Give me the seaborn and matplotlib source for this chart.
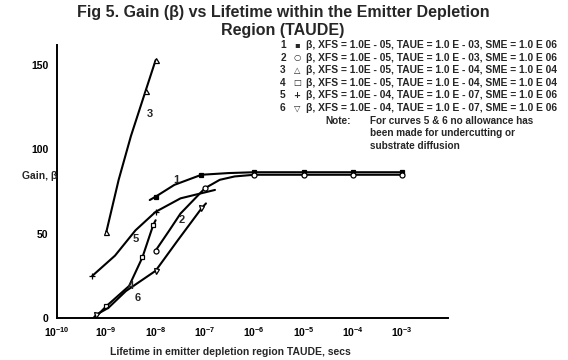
import matplotlib
matplotlib.use("Agg")
import matplotlib.pyplot as plt
import seaborn as sns
from matplotlib.ticker import NullLocator

# ---------------- data (lifetime TAUDE in s, gain beta) ----------------
c1_t = [7.6e-9, 1.0e-8, 2.4e-8, 8.5e-8, 3.0e-7, 1.0e-6, 1.0e-5, 1.0e-4, 1.0e-3]
c1_g = [70, 72, 79, 85, 86, 86.5, 86.5, 86.5, 86.5]

c2_t = [1.0e-8, 1.9e-8, 3.2e-8, 1.0e-7, 2.0e-7, 4.0e-7, 1.0e-6, 1.0e-5, 1.0e-4, 1.0e-3]
c2_g = [40, 52, 62, 77, 82, 84, 85, 85, 85, 85]

c3_t = [1.0e-9, 1.78e-9, 3.16e-9, 6.3e-9, 1.0e-8]
c3_g = [51, 82, 108, 135, 153]

c4_t = [5.8e-10, 1.0e-9, 2.9e-9, 5.4e-9, 8.9e-9, 1.0e-8]
c4_g = [0, 7, 19, 36, 55, 58]

c5_t = [5.2e-10, 1.5e-9, 3.9e-9, 1.0e-8, 3.2e-8, 1.6e-7]
c5_g = [25, 37, 52, 63, 71, 76]

c6_t = [5.5e-10, 6.3e-10, 1.1e-9, 2.5e-9, 1.0e-8, 2.8e-8, 8.5e-8, 1.05e-7]
c6_g = [0, 2, 6, 16, 28, 46, 65, 68]

curve_ids = ["1", "2", "3", "4", "5", "6"]
legend_glyphs = ["\u25aa", "\u25cb", "\u25b3", "\u25a1", "+", "\u25bd"]
legend_params = [
    "\u03b2, XFS = 1.0E - 05, TAUE = 1.0 E - 03, SME = 1.0 E 06",
    "\u03b2, XFS = 1.0E - 05, TAUE = 1.0 E - 03, SME = 1.0 E 06",
    "\u03b2, XFS = 1.0E - 05, TAUE = 1.0 E - 04, SME = 1.0 E 04",
    "\u03b2, XFS = 1.0E - 05, TAUE = 1.0 E - 04, SME = 1.0 E 04",
    "\u03b2, XFS = 1.0E - 04, TAUE = 1.0 E - 07, SME = 1.0 E 06",
    "\u03b2, XFS = 1.0E - 04, TAUE = 1.0 E - 07, SME = 1.0 E 06",
]
note_lines = ["For curves 5 & 6 no allowance has",
              "been made for undercutting or",
              "substrate diffusion"]

x_ticks = [1e-10, 1e-9, 1e-8, 1e-7, 1e-6, 1e-5, 1e-4, 1e-3]
x_tick_labels = [r"$10^{-10}$", r"$10^{-9}$", r"$10^{-8}$", r"$10^{-7}$",
                 r"$10^{-6}$", r"$10^{-5}$", r"$10^{-4}$", r"$10^{-3}$"]
y_ticks = [0, 50, 100, 150]

# curve label positions (lifetime, gain)
label_t = [2.6e-8, 3.4e-8, 7.8e-9, 3.2e-9, 3.9e-9, 4.4e-9]
label_g = [82, 58, 121, 19, 47, 12]

# ---------------- style ----------------
sns.set_theme(style="white")
plt.rcParams["font.family"] = ["Liberation Sans", "DejaVu Sans"]
plt.rcParams["font.weight"] = "bold"
plt.rcParams["mathtext.fontset"] = "custom"
plt.rcParams["mathtext.rm"] = "Liberation Sans:bold"
plt.rcParams["mathtext.it"] = "Liberation Sans:bold"
plt.rcParams["mathtext.bf"] = "Liberation Sans:bold"
plt.rcParams["mathtext.sf"] = "Liberation Sans:bold"

W, H = 568, 360
fig = plt.figure(figsize=(W / 100, H / 100), dpi=100)
ax = fig.add_axes([57 / W, (H - 318) / H, (448 - 57) / W, (318 - 45) / H])

curves = [(c1_t, c1_g), (c2_t, c2_g), (c3_t, c3_g),
          (c4_t, c4_g), (c5_t, c5_g), (c6_t, c6_g)]
styles = [
    dict(marker="s", markevery=[1, 3, 5, 6, 7, 8], markersize=2.8, markerfacecolor="black"),
    dict(marker="o", markevery=[0, 3, 6, 7, 8, 9], markersize=3.6, markerfacecolor="white"),
    dict(marker="^", markevery=[0, 3, 4], markersize=3.6, markerfacecolor="white"),
    dict(marker="s", markevery=[1, 3, 4], markersize=3.2, markerfacecolor="white"),
    dict(marker="+", markevery=[0, 3], markersize=4.5, markerfacecolor="white"),
    dict(marker="v", markevery=[1, 4, 6], markersize=3.6, markerfacecolor="white"),
]
for (t, g), st in zip(curves, styles):
    sns.lineplot(x=t, y=g, ax=ax, color="black", linewidth=1.5, sort=False,
                 estimator=None, markeredgecolor="black", markeredgewidth=0.9, **st)

for cid, lt, lg in zip(curve_ids, label_t, label_g):
    ax.text(lt, lg, cid, fontsize=8, fontweight="bold", ha="center", va="center")

ax.set_xscale("log")
ax.set_xlim(1e-10, 10 ** -2.07)
ax.set_ylim(0, 162)
ax.set_xticks(x_ticks)
ax.set_xticklabels(x_tick_labels)
ax.xaxis.set_minor_locator(NullLocator())
ax.set_yticks(y_ticks)
ax.set_yticklabels([str(v) for v in y_ticks])
ax.tick_params(axis="both", direction="in", length=3, width=1, labelsize=7.5,
               color="black", labelcolor="black")
ax.tick_params(axis="y", pad=6)
ax.tick_params(axis="x", pad=5)
for s in ["top", "right"]:
    ax.spines[s].set_visible(False)
for s in ["left", "bottom"]:
    ax.spines[s].set_color("black")
    ax.spines[s].set_linewidth(1.4)
ax.grid(False)
ax.set_xlabel("")
ax.set_ylabel("")


def ftext(x, y, s, **kw):
    kw.setdefault("va", "center")
    fig.text(x / W, 1 - y / H, s, fontweight="bold", **kw)


ftext(283, 13, "Fig 5. Gain (\u03b2) vs Lifetime within the Emitter Depletion",
      ha="center", fontsize=11.5)
ftext(283, 30, "Region (TAUDE)", ha="center", fontsize=11.5)

for i in range(6):
    y = 45 + 12.6 * i
    ftext(283, y, curve_ids[i], ha="center", fontsize=7.3)
    ftext(297, y, legend_glyphs[i], ha="center", fontsize=6,
          family=["DejaVu Sans"])
    ftext(306, y, legend_params[i], ha="left", fontsize=7.4)
ftext(325, 121, "Note:", ha="left", fontsize=7.2)
for j, line in enumerate(note_lines):
    ftext(370, 121 + 12.5 * j, line, ha="left", fontsize=7.2)

ftext(22, 176, "Gain, \u03b2", ha="left", fontsize=7.5)
ftext(230, 352, "Lifetime in emitter depletion region TAUDE, secs",
      ha="center", fontsize=7.5)

fig.savefig("out.png", dpi=100)
